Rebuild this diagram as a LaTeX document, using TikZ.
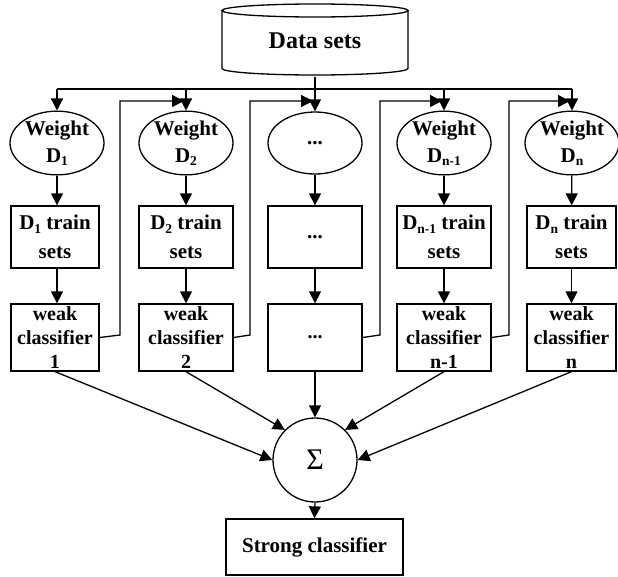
\documentclass[tikz,border=0pt]{standalone}
\usepackage{fontspec}
\setmainfont{Liberation Serif}
\usetikzlibrary{arrows.meta,shapes.geometric,calc}
\newcommand\dsub[1]{\raisebox{-3.5pt}{\fontsize{13.5}{13.5}\selectfont #1}}
\begin{document}
\begin{tikzpicture}[x=1pt,y=-1pt,line width=1.3pt,
  every node/.style={font=\fontsize{21}{24}\selectfont\bfseries,align=center,inner sep=0pt},
  wbox/.style={draw,rectangle,minimum width=94pt,minimum height=67pt,
    font=\fontsize{20}{24}\selectfont\bfseries},
  tbox/.style={draw,rectangle,minimum width=94pt,minimum height=62pt,
    font=\fontsize{21}{29}\selectfont\bfseries},
  wellip/.style={draw,ellipse,minimum width=94pt,minimum height=62pt,
    font=\fontsize{21}{27}\selectfont\bfseries},
  arr/.style={-{Triangle[length=12pt,width=12pt]}}]
\useasboundingbox (0,0) rectangle (618,576);

% data store (cylinder)
\node[minimum width=186pt,minimum height=71pt,font=\fontsize{24}{28}\selectfont\bfseries]
  (data) at (315,41) {Data sets};
\draw (222,10.5) -- (222,68.5) arc[start angle=180,end angle=360,x radius=93pt,y radius=6.5pt]
  -- (408,10.5);
\draw (315,10.5) ellipse[x radius=93pt,y radius=6.5pt];

% weights
\node[wellip] (e1) at (57,143) {Weight\\D\dsub{1}};
\node[wellip] (e2) at (186,143) {Weight\\D\dsub{2}};
\node[wellip] (e3) at (315,143) {...};
\node[wellip] (e4) at (444,143) {Weight\\D\dsub{n-1}};
\node[wellip] (e5) at (572,143) {Weight\\D\dsub{n}};

% training sets
\node[tbox,minimum width=88pt] (t1) at (55,237) {D\dsub{1} train\\sets};
\node[tbox] (t2) at (186,237) {D\dsub{2} train\\sets};
\node[tbox] (t3) at (315,237) {...};
\node[tbox] (t4) at (444,237) {D\dsub{n-1} train\\sets};
\node[tbox,minimum width=89pt] (t5) at (571.5,237) {D\dsub{n} train\\sets};

% weak classifiers
\node[wbox,minimum width=88pt] (w1) at (55,337.5) {weak\\classifier\\1};
\node[wbox] (w2) at (186,337.5) {weak\\classifier\\2};
\node[wbox] (w3) at (315,337.5) {...};
\node[wbox] (w4) at (444,337.5) {weak\\classifier\\n-1};
\node[wbox,minimum width=89pt] (w5) at (571.5,337.5) {weak\\classifier\\n};

% combination
\node[draw,circle,minimum size=84pt,font=\fontsize{30}{30}\selectfont] (s) at (315,460) {Σ};
\node[draw,rectangle,minimum width=177pt,minimum height=56pt] (sc) at (314.5,547) {Strong classifier};

% distribution of the data sets
\coordinate (bus) at (0,89);
\draw[arr] (data.south) -- (e3.north);
\draw (e1.north |- bus) -- (e5.north |- bus);
\foreach \i in {1,2,4,5} \draw[arr] (e\i.north |- bus) -- (e\i.north);

% weight updates fed to the next round
\coordinate (ret) at (0,101);
\foreach \a/\b/\x in {1/2/120,2/3/250,3/4/380,4/5/509} {
  \coordinate (up\b) at (\x,335);
  \coordinate (tip\b) at ($(e\b.north |- ret)+(-2,0)$);
  \draw[arr] (w\a.east) -- (up\b) -- (up\b |- ret) -- (tip\b);
}

% vertical flow in each column
\draw[arr] (e1) -- (e1 |- t1.north);
\foreach \i in {2,3,4,5} \draw[arr] (e\i) -- (t\i);
\draw[arr] (t1.south -| e1) -- (w1.north -| e1);
\foreach \i in {2,3,4,5} \draw[arr] (t\i) -- (w\i);

% voting
\draw[arr] (w1.south) -- (s.west);
\draw[arr] (w2.south) -- (s.135);
\draw[arr] (w3.south) -- (s.north);
\draw[arr] (w4.south) -- (s.45);
\draw[arr] (w5.south) -- (s.east);
\draw[arr] (s.south) -- (sc.north);
\end{tikzpicture}
\end{document}
